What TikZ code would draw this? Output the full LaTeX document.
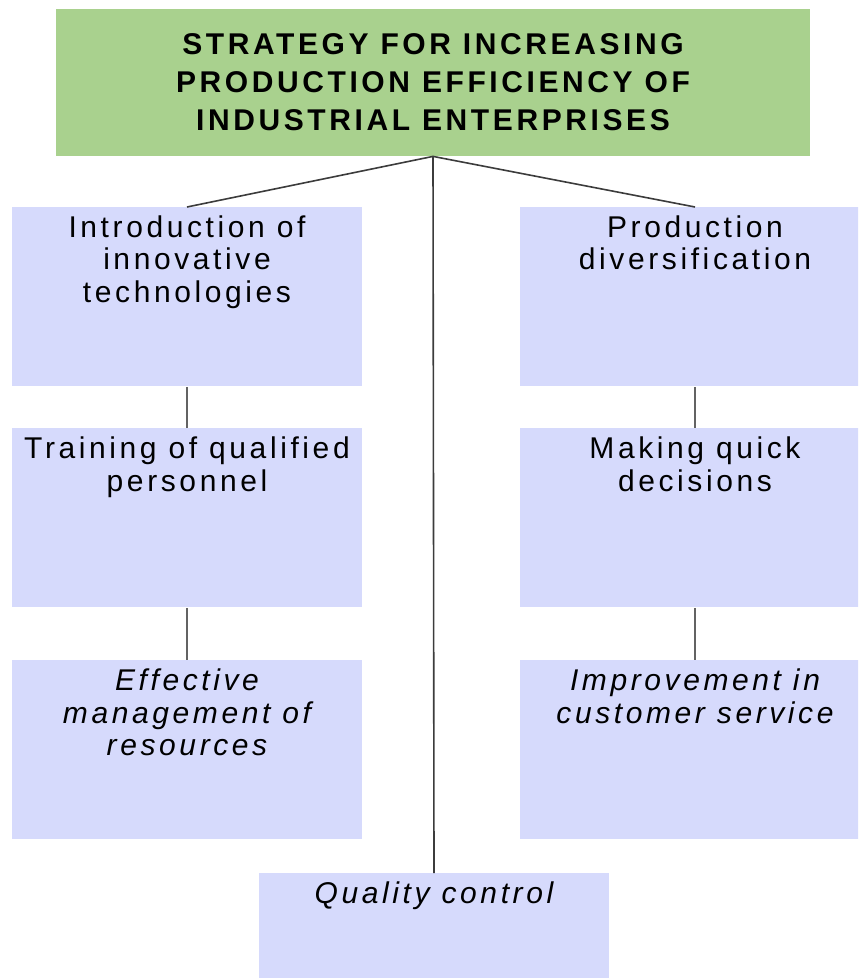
\documentclass[tikz,border=0pt]{standalone}
\usepackage{fontspec}
\setmainfont{Liberation Sans}[LetterSpace=12]
\newfontfamily\titlefont{Liberation Sans}[LetterSpace=12]
\usetikzlibrary{positioning}

\definecolor{stratgreen}{RGB}{169,209,142}
\definecolor{itemblue}{RGB}{214,218,252}
\definecolor{linkgray}{RGB}{60,60,60}

\newcommand{\boxtext}[1]{\begin{minipage}[t][89.5pt][t]{175pt}\centering
	\fontsize{15pt}{16.3pt}\selectfont\rule{0pt}{15pt}#1\end{minipage}}

\tikzset{
	stratbox/.style={fill=stratgreen, minimum width=377pt, minimum height=73.5pt,
		align=center, font=\titlefont\bfseries\fontsize{15pt}{19pt}\selectfont},
	itembox/.style={fill=itemblue, inner sep=0pt, anchor=north},
	link/.style={draw=linkgray, line width=0.8pt},
	sublink/.style={draw=linkgray!80, line width=0.8pt},
}

\begin{document}
\begin{tikzpicture}[x=0.5pt, y=-0.5pt]
		\useasboundingbox (0,0) rectangle (858,978);
		\clip (0,0) rectangle (858,978);

		\node[stratbox] (strat) at (433,82.5)
			{STRATEGY FOR INCREASING\\PRODUCTION EFFICIENCY OF\\INDUSTRIAL ENTERPRISES};

		% left column
		\node[itembox] (innov) at (187,207) {\boxtext{Introduction of\\innovative\\technologies}};
		\node[itembox] (train) at (187,428) {\boxtext{Training of qualified\\personnel}};
		\node[itembox] (manage) at (187,660) {\boxtext{\itshape Effective\\management of\\resources}};

		% right column
		\node[itembox] (divers) at (695,207) {\boxtext{Production\\diversification}};
		\node[itembox] (decide) at (695,428) {\boxtext{Making quick\\decisions}};
		\node[itembox] (service) at (695,660) {\boxtext{\itshape Improvement in\\customer service}};

		\node[itembox] (quality) at (434,873) {\boxtext{\itshape Quality control}};

		\draw[link] (strat.south) -- (innov.north);
		\draw[link] (strat.south) -- (divers.north);
		\draw[link] (strat.south) -- (quality.north);

		\draw[sublink] (innov) -- (train);
		\draw[sublink] (train) -- (manage);
		\draw[sublink] (divers) -- (decide);
		\draw[sublink] (decide) -- (service);
	\end{tikzpicture}
\end{document}
